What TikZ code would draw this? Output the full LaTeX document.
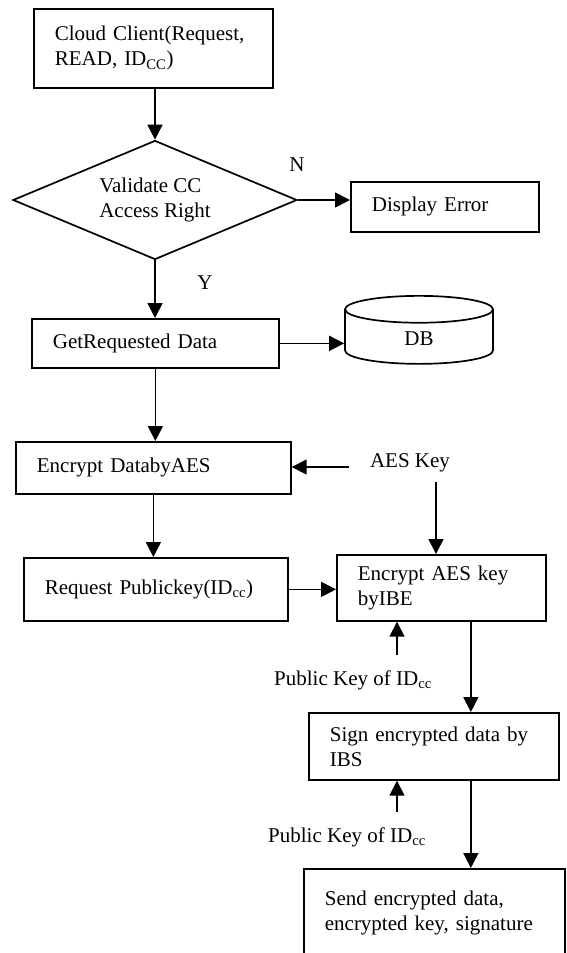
\documentclass[tikz,border=0pt]{standalone}
\usepackage{fontspec}
\setmainfont{Liberation Serif}
\usetikzlibrary{positioning,arrows.meta,shapes.geometric}
\tikzset{
  ccbloco/.style={draw, line width=1.7pt, anchor=north west, align=left,
                  inner xsep=21pt, inner ysep=0pt},
  ccdecisao/.style={draw, line width=1.7pt, diamond, aspect=2.39, inner sep=0pt,
                  minimum width=284pt, minimum height=119pt, align=left},
  ccbanco/.style={draw, line width=1.7pt, cylinder, shape border rotate=90, aspect=0.75,
                  minimum width=148pt, minimum height=68pt},
  ccseta/.style={-{Triangle[length=15pt,width=15pt]}, line width=1.7pt},
  ccrotulo/.style={inner sep=0pt},
}

\begin{document}
\begin{tikzpicture}[x=1pt, y=-1pt, font=\fontsize{21}{25}\selectfont]
        \useasboundingbox (0,0) rectangle (567,953);
        \clip (0,0) rectangle (567,953);
        \node[ccbloco, text width=197pt, minimum height=79pt] (cliente) at (33,8) {Cloud Client(Request,\\ READ, ID\textsubscript{CC})};
        \node[ccdecisao] (valida) at (155,200) {Validate CC\\ Access Right};
        \node[ccbloco, text width=146pt, minimum height=50pt] (erro) at (350,181) {Display Error};
        \node[ccbloco, text width=205pt, minimum height=49pt] (dados) at (31,318) {GetRequested Data};
        \node[ccbanco] (db) at (419,339) {DB};
        \node[ccbloco, text width=233pt, minimum height=52pt] (cifra) at (15,441) {Encrypt DatabyAES};
        \node[ccrotulo] (chaveaes) at (410,463) {AES Key};
        \node[ccbloco, text width=222pt, minimum height=63pt] (pedido) at (23,557) {Request Publickey(ID\textsubscript{cc})};
        \node[ccbloco, text width=167pt, minimum height=66pt] (cifraibe) at (336,554) {Encrypt AES key\\ byIBE};
        \node[ccrotulo] (chavepub1) at (353,680) {Public Key of ID\textsubscript{cc}};
        \node[ccbloco, text width=208pt, minimum height=67pt] (assina) at (308,712) {Sign encrypted data by\\ IBS};
        \node[ccrotulo] (chavepub2) at (347,837) {Public Key of ID\textsubscript{cc}};
        \node[ccbloco, text width=219pt, minimum height=108pt] (envia) at (303,868) {Send encrypted data,\\ encrypted key, signature\\ \mbox{}};
        \node[ccrotulo] (sim) at (205,283) {Y};
        \node[ccrotulo] (nao) at (297,165) {N};
        \draw[ccseta] (cliente.south -| valida.north) -- (valida.north);
        \draw[ccseta] (valida.east) -- (valida.east -| erro.west);
        \draw[ccseta] (valida.south) -- (valida.south |- dados.north);
        \draw[ccseta] (dados.east) -- (dados.east -| db.west);
        \draw[ccseta] (dados.south) -- (dados.south |- cifra.north);
        \draw[ccseta] (cifra.south) -- (cifra.south |- pedido.north);
        \coordinate (aesesq) at ([xshift=-21pt,yshift=-4pt]chaveaes.west);
        \coordinate (aesbaixo) at ([xshift=26pt,yshift=-19pt]chaveaes.center);
        \draw[ccseta] (aesesq) -- (aesesq -| cifra.east);
        \draw[ccseta] (aesbaixo) -- (aesbaixo |- cifraibe.north);
        \draw[ccseta] (pedido.east) -- (pedido.east -| cifraibe.west);
        \coordinate (pub1cima) at ([xshift=44pt,yshift=25pt]chavepub1.center);
        \coordinate (ibesaida) at ([xshift=29.5pt]cifraibe.south);
        \draw[ccseta] (pub1cima) -- (pub1cima |- cifraibe.south);
        \draw[ccseta] (ibesaida) -- (ibesaida |- assina.north);
        \coordinate (pub2cima) at ([xshift=50pt,yshift=25pt]chavepub2.center);
        \coordinate (assinasaida) at (ibesaida |- assina.south);
        \draw[ccseta] (pub2cima) -- (pub2cima |- assina.south);
        \draw[ccseta] (assinasaida) -- (assinasaida |- envia.north);
    \end{tikzpicture}
\end{document}
